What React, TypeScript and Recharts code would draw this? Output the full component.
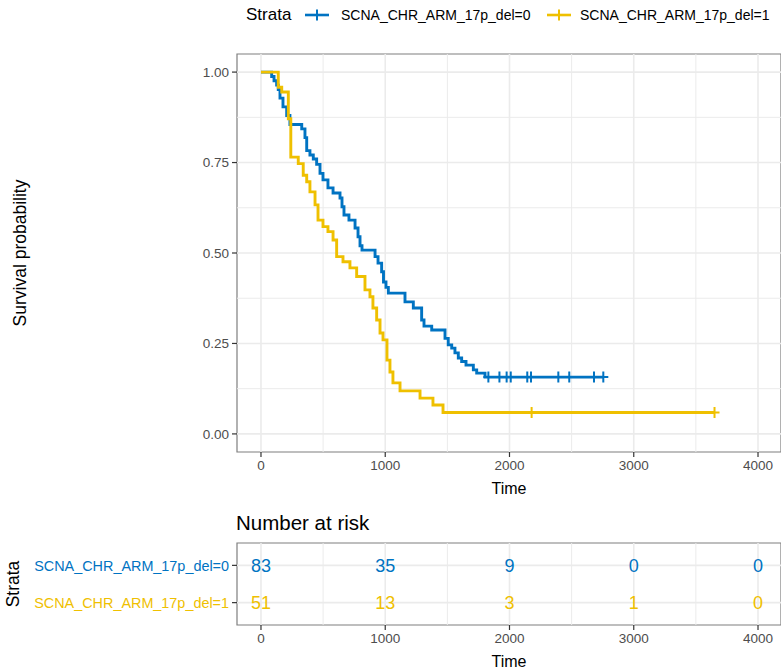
import React from 'react';
import {
  ComposedChart,
  Line,
  Scatter,
  XAxis,
  YAxis,
  ReferenceLine,
  ReferenceArea,
  Label,
} from 'recharts';

const FONT = '"Liberation Sans", Arial, Helvetica, sans-serif';
const BLUE = '#0073C2';
const YELLOW = '#EFC000';

// ---------- data ----------
const strataNames = ['SCNA_CHR_ARM_17p_del=0', 'SCNA_CHR_ARM_17p_del=1'];

const blueTimes = [0, 86, 105, 126, 139, 153, 177, 207, 233, 328, 354, 368, 394, 421, 448, 475, 499, 539, 580, 636, 652, 668, 708, 757, 781, 797, 813, 918, 942, 971, 986, 1006, 1025, 1159, 1226, 1293, 1312, 1374, 1481, 1507, 1535, 1561, 1588, 1615, 1650, 1709, 1736, 1803, 2755];
const blueSurv = [1, 0.988, 0.976, 0.964, 0.952, 0.928, 0.904, 0.88, 0.855, 0.843, 0.819, 0.783, 0.771, 0.76, 0.745, 0.72, 0.702, 0.68, 0.666, 0.652, 0.628, 0.605, 0.591, 0.569, 0.545, 0.52, 0.508, 0.49, 0.472, 0.448, 0.42, 0.405, 0.389, 0.365, 0.348, 0.315, 0.298, 0.287, 0.264, 0.246, 0.237, 0.224, 0.21, 0.2, 0.19, 0.177, 0.168, 0.157, 0.157];

const yellowTimes = [0, 139, 167, 220, 240, 300, 340, 368, 394, 435, 459, 499, 539, 580, 609, 660, 716, 770, 837, 877, 901, 931, 958, 982, 1014, 1038, 1062, 1119, 1280, 1384, 1465, 3650];
const yellowSurv = [1, 0.958, 0.945, 0.871, 0.765, 0.747, 0.715, 0.697, 0.669, 0.633, 0.591, 0.573, 0.559, 0.536, 0.49, 0.476, 0.459, 0.435, 0.398, 0.379, 0.348, 0.315, 0.279, 0.26, 0.204, 0.171, 0.141, 0.119, 0.099, 0.08, 0.059, 0.059];

const blueCensorTimes = [1830, 1919, 1977, 2010, 2143, 2173, 2393, 2481, 2680, 2755];
const yellowCensorTimes = [2178, 3650];

const riskTimes = [0, 1000, 2000, 3000, 4000];
const riskBlue = [83, 35, 9, 0, 0];
const riskYellow = [51, 13, 3, 1, 0];

const xTicks = [0, 1000, 2000, 3000, 4000];
const xMinor = [500, 1500, 2500, 3500];
const yTicks = [0, 0.25, 0.5, 0.75, 1];
const yMinor = [0.125, 0.375, 0.625, 0.875];

// ---------- derived tables ----------
const survAt = (times: number[], surv: number[], t: number) => {
  let s = surv[0];
  for (let i = 0; i < times.length; i++) if (times[i] <= t) s = surv[i];
  return s;
};
const blueData = blueTimes.map((t, i) => ({ t, s: blueSurv[i] }));
const yellowData = yellowTimes.map((t, i) => ({ t, s: yellowSurv[i] }));
const blueCensor = blueCensorTimes.map((t) => ({ t, s: survAt(blueTimes, blueSurv, t) }));
const yellowCensor = yellowCensorTimes.map((t) => ({ t, s: survAt(yellowTimes, yellowSurv, t) }));
const riskData = riskTimes.flatMap((t, i) => [
  { t, row: 2, n: riskBlue[i], c: BLUE },
  { t, row: 1, n: riskYellow[i], c: YELLOW },
]);

const X_DOMAIN: [number, number] = [-193, 4185];
const GRID = '#EBEBEB';
const BORDER = '#7F7F7F';

const plusShape = (color: string) => (p: any) => (
  <path
    d={`M${p.cx - 5},${p.cy}h10M${p.cx},${p.cy - 5.5}v11`}
    stroke={color}
    strokeWidth={2}
    fill="none"
  />
);

const riskText = (p: any) => (
  <text
    x={p.cx}
    y={p.cy}
    dy="0.36em"
    textAnchor="middle"
    fill={p.payload.c}
    fontSize={18}
    fontFamily={FONT}
  >
    {p.payload.n}
  </text>
);

const RiskTick = (props: any) => {
  const { x, y, payload } = props;
  const idx = payload.value === 2 ? 0 : 1;
  return (
    <text
      x={x}
      y={y}
      dy="0.36em"
      textAnchor="end"
      fill={idx === 0 ? BLUE : YELLOW}
      fontSize={14.4}
      fontFamily={FONT}
    >
      {strataNames[idx]}
    </text>
  );
};

const tickStyle = { fill: '#4D4D4D', fontSize: 13.5, fontFamily: FONT };

const LegendKey = ({ color }: { color: string }) => (
  <svg width={24} height={14} style={{ display: 'block' }}>
    <line x1={0} y1={7} x2={24} y2={7} stroke={color} strokeWidth={2.6} />
    <line x1={12} y1={1.5} x2={12} y2={12.5} stroke={color} strokeWidth={2} />
  </svg>
);

export default function App() {
  return (
    <div
      style={{
        position: 'absolute',
        left: 0,
        top: 0,
        width: 781,
        height: 670,
        background: '#fff',
        fontFamily: FONT,
        overflow: 'hidden',
      }}
    >
      {/* legend */}
      <div style={{ position: 'absolute', left: 246, top: 5, fontSize: 17, lineHeight: '20px', color: '#000' }}>Strata</div>
      <div style={{ position: 'absolute', left: 305, top: 8 }}>
        <LegendKey color={BLUE} />
      </div>
      <div style={{ position: 'absolute', left: 341, top: 6, fontSize: 14, lineHeight: '18px', color: '#000' }}>
        {strataNames[0]}
      </div>
      <div style={{ position: 'absolute', left: 547, top: 8 }}>
        <LegendKey color={YELLOW} />
      </div>
      <div style={{ position: 'absolute', left: 580, top: 6, fontSize: 14, lineHeight: '18px', color: '#000' }}>
        {strataNames[1]}
      </div>

      {/* main survival plot */}
      <div style={{ position: 'absolute', left: 0, top: 0 }}>
        <ComposedChart width={781} height={502} margin={{ top: 54, right: 0, bottom: 0, left: 0 }}>
          <XAxis
            type="number"
            dataKey="t"
            domain={X_DOMAIN}
            allowDataOverflow
            ticks={xTicks}
            interval={0}
            height={50}
            tickSize={5}
            tickMargin={3}
            axisLine={false}
            tickLine={{ stroke: '#333333', strokeWidth: 1.2 }}
            tick={tickStyle}
          >
            <Label value="Time" position="insideBottom" offset={8} style={{ fontSize: 16, fill: '#000', fontFamily: FONT }} />
          </XAxis>
          <YAxis
            type="number"
            dataKey="s"
            domain={[-0.05, 1.05]}
            allowDataOverflow
            ticks={yTicks}
            interval={0}
            width={237}
            tickSize={5}
            tickMargin={3}
            axisLine={false}
            tickLine={{ stroke: '#333333', strokeWidth: 1.2 }}
            tick={tickStyle}
            tickFormatter={(v: number) => v.toFixed(2)}
          >
            <Label
              value="Survival probability"
              angle={-90}
              position="insideLeft"
              offset={20}
              style={{ fontSize: 17.5, fill: '#000', fontFamily: FONT, textAnchor: 'middle' }}
            />
          </YAxis>
          {xMinor.map((v) => (
            <ReferenceLine key={'xm' + v} x={v} stroke={GRID} strokeWidth={1} />
          ))}
          {yMinor.map((v) => (
            <ReferenceLine key={'ym' + v} y={v} stroke={GRID} strokeWidth={1} />
          ))}
          {xTicks.map((v) => (
            <ReferenceLine key={'x' + v} x={v} stroke={GRID} strokeWidth={1.6} />
          ))}
          {yTicks.map((v) => (
            <ReferenceLine key={'y' + v} y={v} stroke={GRID} strokeWidth={1.6} />
          ))}
          <ReferenceArea
            x1={X_DOMAIN[0]}
            x2={X_DOMAIN[1]}
            y1={-0.05}
            y2={1.05}
            fill="none"
            fillOpacity={0}
            stroke={BORDER}
            strokeWidth={1.2}
          />
          <Line
            data={blueData}
            dataKey="s"
            type="stepAfter"
            stroke={BLUE}
            strokeWidth={2.9}
            dot={false}
            activeDot={false}
            isAnimationActive={false}
          />
          <Line
            data={yellowData}
            dataKey="s"
            type="stepAfter"
            stroke={YELLOW}
            strokeWidth={2.9}
            dot={false}
            activeDot={false}
            isAnimationActive={false}
          />
          <Scatter data={blueCensor} dataKey="s" shape={plusShape(BLUE)} isAnimationActive={false} />
          <Scatter data={yellowCensor} dataKey="s" shape={plusShape(YELLOW)} isAnimationActive={false} />
        </ComposedChart>
      </div>

      {/* risk table title */}
      <div style={{ position: 'absolute', left: 236, top: 511, fontSize: 20.5, lineHeight: '24px', color: '#000' }}>
        Number at risk
      </div>

      {/* risk table */}
      <div style={{ position: 'absolute', left: 0, top: 502 }}>
        <ComposedChart width={781} height={168} margin={{ top: 41, right: 0, bottom: 0, left: 0 }}>
          <XAxis
            type="number"
            dataKey="t"
            domain={X_DOMAIN}
            allowDataOverflow
            ticks={xTicks}
            interval={0}
            height={45}
            tickSize={5}
            tickMargin={3}
            axisLine={false}
            tickLine={{ stroke: '#333333', strokeWidth: 1.2 }}
            tick={tickStyle}
          >
            <Label value="Time" position="insideBottom" offset={3} style={{ fontSize: 16, fill: '#000', fontFamily: FONT }} />
          </XAxis>
          <YAxis
            type="number"
            dataKey="row"
            domain={[0.4, 2.6]}
            allowDataOverflow
            ticks={[1, 2]}
            interval={0}
            width={237}
            tickSize={5}
            tickMargin={3}
            axisLine={false}
            tickLine={{ stroke: '#333333', strokeWidth: 1.2 }}
            tick={<RiskTick />}
          >
            <Label
              value="Strata"
              angle={-90}
              position="insideLeft"
              offset={13}
              style={{ fontSize: 17.5, fill: '#000', fontFamily: FONT, textAnchor: 'middle' }}
            />
          </YAxis>
          {xMinor.map((v) => (
            <ReferenceLine key={'rxm' + v} x={v} stroke={GRID} strokeWidth={1} />
          ))}
          {xTicks.map((v) => (
            <ReferenceLine key={'rx' + v} x={v} stroke={GRID} strokeWidth={1.6} />
          ))}
          {[1, 2].map((v) => (
            <ReferenceLine key={'ry' + v} y={v} stroke={GRID} strokeWidth={1.6} />
          ))}
          <ReferenceArea
            x1={X_DOMAIN[0]}
            x2={X_DOMAIN[1]}
            y1={0.4}
            y2={2.6}
            fill="none"
            fillOpacity={0}
            stroke={BORDER}
            strokeWidth={1.2}
          />
          <Scatter data={riskData} dataKey="row" shape={riskText} isAnimationActive={false} />
        </ComposedChart>
      </div>
    </div>
  );
}
